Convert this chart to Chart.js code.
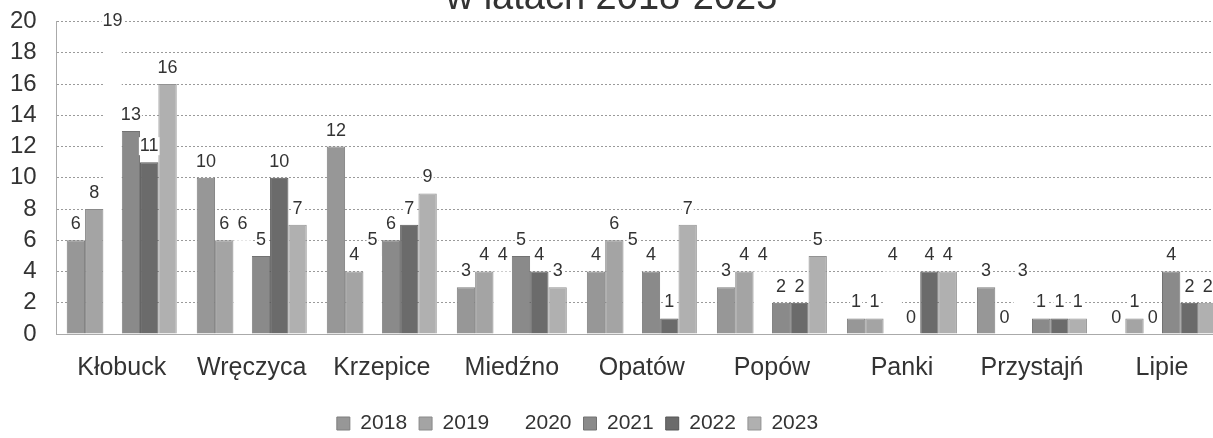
<!DOCTYPE html>
<html>
<head>
<meta charset="utf-8">
<script src="https://cdn.jsdelivr.net/npm/chart.js@4/dist/chart.umd.min.js"></script>
<style>
  body { margin: 0; background: #fff; }
  #wrap { position: relative; width: 1213px; height: 438px; overflow: hidden; }
  #chart { position: absolute; left: 0; top: -26px; }
</style>
</head>
<body>
<div id="wrap"><canvas id="chart" width="1227" height="470"></canvas></div>
<script>
const categories = ['Kłobuck', 'Wręczyca', 'Krzepice', 'Miedźno', 'Opatów', 'Popów', 'Panki', 'Przystajń', 'Lipie'];
const years = ['2018', '2019', '2020', '2021', '2022', '2023'];
const values2018 = [6, 10, 12, 3, 4, 3, 1, 3, 0];
const values2019 = [8, 6, 4, 4, 6, 4, 1, 0, 1];
const values2020 = [19, 6, 5, 4, 5, 4, 4, 3, 0];
const values2021 = [13, 5, 6, 5, 4, 2, 0, 1, 4];
const values2022 = [11, 10, 7, 4, 1, 2, 4, 1, 2];
const values2023 = [16, 7, 9, 3, 7, 5, 4, 1, 2];
const yTicks = [0, 2, 4, 6, 8, 10, 12, 14, 16, 18, 20];

const seriesValues = [values2018, values2019, values2020, values2021, values2022, values2023];
const fills = ['#979797', '#a4a4a4', '#ffffff', '#8a8a8a', '#6b6b6b', '#b0b0b0'];
const borders = ['#7e7e7e', '#8a8a8a', '#ffffff', '#727272', '#575757', '#939393'];

Chart.defaults.font.family = '"Liberation Sans", Arial, sans-serif';
Chart.defaults.color = '#333';

// value labels on top of bars, with white background like in the scan
const barLabels = {
  id: 'barLabels',
  afterDatasetsDraw(chart) {
    const ctx = chart.ctx;
    ctx.save();
    ctx.font = '18px "Liberation Sans", Arial, sans-serif';
    ctx.textAlign = 'center';
    ctx.textBaseline = 'middle';
    chart.data.datasets.forEach((ds, i) => {
      chart.getDatasetMeta(i).data.forEach((bar, j) => {
        const text = String(ds.data[j]);
        const w = ctx.measureText(text).width;
        const y = bar.y - 16;
        ctx.fillStyle = '#fff';
        ctx.fillRect(bar.x - w / 2 - 1, y - 9, w + 2, 18);
        ctx.fillStyle = '#333';
        ctx.fillText(text, bar.x, y);
      });
    });
    ctx.restore();
  }
};

// plot runs past the right edge, so title and legend sit left of canvas centre
const shiftBlocks = {
  id: 'shiftBlocks',
  afterLayout(chart) {
    chart.titleBlock.left -= 7;
    chart.titleBlock.right -= 7;
    chart.legend.left -= 41;
    chart.legend.right -= 41;
  }
};

new Chart(document.getElementById('chart'), {
  type: 'bar',
  data: {
    labels: categories,
    datasets: years.map((year, i) => ({
      label: year,
      data: seriesValues[i],
      backgroundColor: fills[i],
      borderColor: borders[i],
      borderWidth: i === 2 ? 0 : 1,
      categoryPercentage: 0.846,
      barPercentage: 1
    }))
  },
  options: {
    responsive: false,
    animation: false,
    layout: { padding: { left: 10, right: 0, top: 0, bottom: 0 } },
    plugins: {
      title: {
        display: true,
        text: 'w latach 2018-2023',
        font: { size: 38, weight: 'normal' },
        padding: { top: 2, bottom: 0 },
        color: '#333'
      },
      legend: {
        position: 'bottom',
        labels: {
          boxWidth: 13,
          boxHeight: 13,
          padding: 12,
          font: { size: 21 },
          color: '#333'
        }
      },
      tooltip: { enabled: false }
    },
    scales: {
      x: {
        grid: { display: false, drawTicks: false },
        border: { display: true, color: '#aaa' },
        ticks: { font: { size: 25 }, padding: 19, color: '#333' },
        afterFit: (scale) => { scale.height -= 1; }
      },
      y: {
        min: 0,
        max: 20,
        afterBuildTicks: (scale) => { scale.ticks = yTicks.map(v => ({ value: v })); },
        afterFit: (scale) => { scale.width -= 20; },
        grid: { color: '#9a9a9a', drawTicks: false },
        border: { display: true, color: '#aaa', dash: [2, 2] },
        ticks: { font: { size: 24 }, padding: 20, color: '#333', autoSkip: false }
      }
    }
  },
  plugins: [barLabels, shiftBlocks]
});
</script>
</body>
</html>
